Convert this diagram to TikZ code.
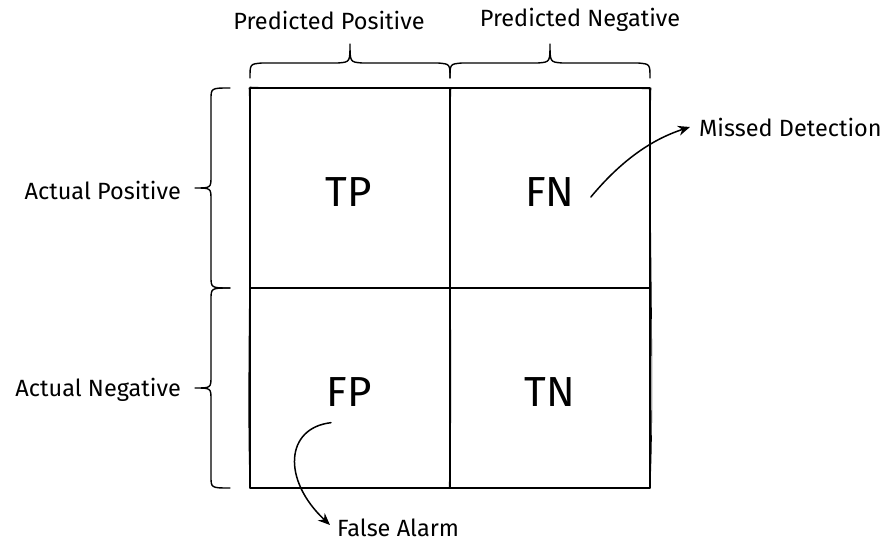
\documentclass[tikz,border=0pt]{standalone}
\usepackage{fontspec}
\setmainfont{Fira Sans}
\usetikzlibrary{arrows.meta}
\begin{document}
\begin{tikzpicture}[x=1pt,y=-1pt,
  line cap=round, line join=round,
  grid/.style={line width=1.6pt, black},
  brace/.style={line width=1.4pt, black},
  lbl/.style={font=\fontsize{23.5}{28}\selectfont, inner sep=0pt},
  big/.style={font=\fontsize{42}{50}\selectfont, inner sep=0pt},
  arr/.style={line width=1.5pt, -{Stealth[length=12pt,width=10pt]}}]
\useasboundingbox (0,0) rectangle (890,548);
% cells
\draw[grid] (250,88) rectangle (650,488);
\draw[grid] (450,88) -- (450,488);
\draw[grid] (250,288) -- (650,288);
\draw[line width=0.6pt] (250,87) .. controls (350,91) and (550,85) .. (650,89);
\draw[line width=0.6pt] (249,88) .. controls (253,188) and (246,388) .. (250,488);
\draw[line width=0.6pt] (451,88) .. controls (447,188) and (454,388) .. (449,488);
\draw[line width=0.6pt] (651,88) .. controls (648,188) and (655,388) .. (650,488);
% cell labels
\node[big] (tp) at (349,192) {TP};
\node[big] (fn) at (550,192) {FN};
\node[big] (fp) at (349,392) {FP};
\node[big] (tn) at (550,392) {TN};
% top braces
\draw[brace] (250,78) .. controls (250,64) .. (262,63) -- (338,63) .. controls (350,62) .. (350,44)
  .. controls (350,62) .. (362,63) -- (438,63) .. controls (450,64) .. (450,78);
\draw[brace] (450,78) .. controls (450,64) .. (462,63) -- (538,63) .. controls (550,62) .. (550,44)
  .. controls (550,62) .. (562,63) -- (638,63) .. controls (650,64) .. (650,78);
% left braces
\draw[brace] (230,88) .. controls (211,88) .. (211,100) -- (211,176) .. controls (211,188) .. (195,188)
  .. controls (211,188) .. (211,200) -- (211,276) .. controls (211,288) .. (230,288);
\draw[brace] (230,288) .. controls (211,288) .. (211,300) -- (211,376) .. controls (211,388) .. (195,388)
  .. controls (211,388) .. (211,400) -- (211,476) .. controls (211,488) .. (230,488);
% axis labels
\node[lbl] (pp) at (329,20) {Predicted Positive};
\node[lbl] (pn) at (580,20) {Predicted Negative};
\node[lbl, anchor=east] (ap) at (181,190) {Actual Positive};
\node[lbl, anchor=east] (an) at (181,390) {Actual Negative};
% annotations
\node[lbl, anchor=west] (md) at (699,127) {Missed Detection};
\node[lbl, anchor=west] (fa) at (337,528) {False Alarm};
\draw[arr] ([shift={(16,5)}]fn.east) .. controls (620,162) and (650,140) .. ([xshift=-9pt]md.west);
\draw[arr] ([shift={(-18,16)}]fp.south) .. controls (285,428) and (282,480) .. ([shift={(-7,-3)}]fa.west);
\end{tikzpicture}
\end{document}
